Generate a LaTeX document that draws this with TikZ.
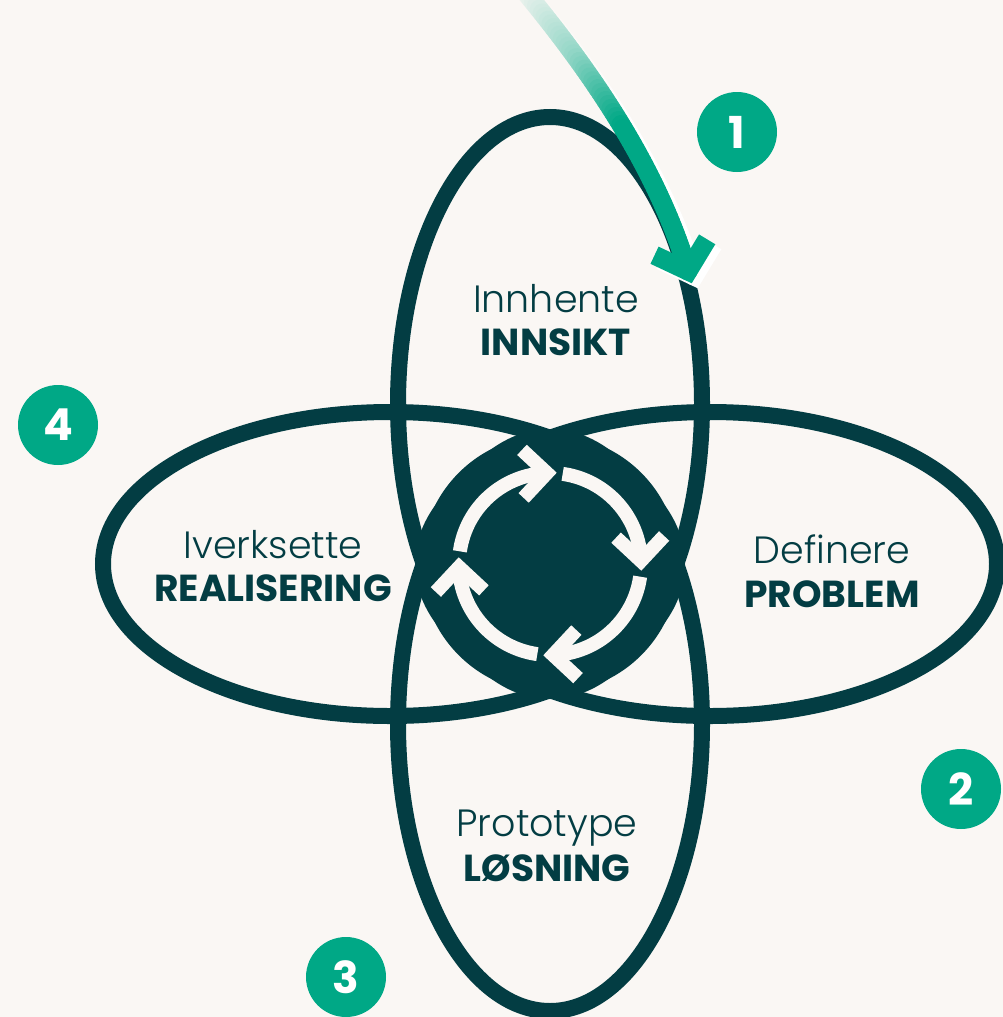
\documentclass[tikz,border=0pt]{standalone}
\usepackage{fontspec}
\newfontfamily\plight{Poppins Light}
\newfontfamily\pbold{Poppins Bold}
\usetikzlibrary{calc}
\definecolor{bg}{HTML}{FAF7F4}
\definecolor{dk}{HTML}{033D43}
\definecolor{gr}{HTML}{00A886}
\begin{document}
\begin{tikzpicture}[x=1pt,y=1pt,
  ring/.style={draw=dk, line width=16pt},
  cyc/.style={draw=bg, line width=14pt, line cap=butt},
  chev/.style={draw=bg, line width=14pt, line join=miter, line cap=butt, miter limit=10},
  garrow/.style={line width=19pt, line cap=butt, line join=miter, miter limit=10},
  gseg/.style={line width=19pt, line cap=round},
  badge/.style={circle, fill=gr, minimum size=80pt, inner sep=0pt, text=white, font=\pbold\fontsize{44}{44}\selectfont},
  lt/.style={anchor=base, text=dk, inner sep=0pt, font=\plight\fontsize{38}{40}\selectfont},
  bd/.style={anchor=base, text=dk, inner sep=0pt, font=\pbold\fontsize{37.6}{40}\selectfont}]

\fill[bg] (0,0) rectangle (1003,-1017);
\useasboundingbox (0,0) rectangle (1003,-1017);

\coordinate (C) at (550,-564);
% four ellipses
\draw[ring] (550,-404) ellipse [x radius=152pt, y radius=287pt];
\draw[ring] (550,-724) ellipse [x radius=152pt, y radius=287pt];
\draw[ring] (390,-564) ellipse [x radius=287pt, y radius=152pt];
\draw[ring] (710,-564) ellipse [x radius=287pt, y radius=152pt];

% central disc
\fill[dk] (C) circle [radius=129pt];

% cycle arrows
\foreach \s/\e [count=\i] in {172/92, 82/2, -8/-88, -98/-178} {
  \draw[cyc] ($(C)+(\s:91pt)$) arc [start angle=\s, end angle=\e, radius=91pt];
  \coordinate (t\i) at ($(C)+(\e:91pt)$);
  \draw[chev] ($(t\i)+({\e+135}:34pt)$) -- (t\i) -- ($(t\i)+({\e+45}:34pt)$);
}

% green entry arrow (fading shaft drawn as short segments)
\coordinate (g0) at (522,12);
\coordinate (g1) at (590,-70);
\coordinate (g2) at (656,-165);
\coordinate (g3) at (688,-271);
\coordinate (s0) at ($(g0)+(6,-5)$);
\coordinate (s1) at ($(g1)+(6,-5)$);
\coordinate (s2) at ($(g2)+(6,-5)$);
\coordinate (s3) at ($(g3)+(6,-5)$);
\foreach \i in {1,...,70} {
  \pgfmathsetmacro{\ta}{(\i-1)/70}
  \pgfmathsetmacro{\tb}{\i/70}
  \pgfmathsetmacro{\yy}{(1-\tb)^3*(-12)+3*(1-\tb)^2*\tb*70+3*(1-\tb)*\tb^2*165+\tb^3*271}
  \pgfmathsetmacro{\op}{max(0,min(100,ifthenelse(\yy<59,(\yy+12)/71*40,40+(\yy-59)/71*60)))}
  \path (s0) .. controls (s1) and (s2) .. (s3) coordinate[pos=\ta] (sa) coordinate[pos=\tb] (sb);
  \draw[gseg, draw=white!\op!bg] (sa) -- (sb);
}
\draw[garrow, draw=white] ($(s3)!37pt!48:(s2)$) -- (s3) -- ($(s3)!37pt!-48:(s2)$);
\foreach \i in {1,...,70} {
  \pgfmathsetmacro{\ta}{(\i-1)/70}
  \pgfmathsetmacro{\tb}{\i/70}
  \pgfmathsetmacro{\yy}{(1-\tb)^3*(-12)+3*(1-\tb)^2*\tb*70+3*(1-\tb)*\tb^2*165+\tb^3*271}
  \pgfmathsetmacro{\op}{max(0,min(100,ifthenelse(\yy<59,(\yy+12)/71*40,40+(\yy-59)/71*60)))}
  \path (g0) .. controls (g1) and (g2) .. (g3) coordinate[pos=\ta] (ga) coordinate[pos=\tb] (gb);
  \draw[gseg, draw=gr!\op!bg] (ga) -- (gb);
}
\draw[garrow, draw=gr] ($(g3)!37pt!48:(g2)$) -- (g3) -- ($(g3)!37pt!-48:(g2)$);

% number badges
\node[badge] (n1) at (737,-132) {1};
\node[badge] (n2) at (961,-789) {2};
\node[badge] (n3) at (346,-977) {3};
\node[badge] (n4) at (58,-425) {4};

% labels
\node[lt] (a1) at (556,-312) {Innhente};
\node[bd] (b1) at (556,-355) {INNSIKT};
\node[lt] (a2) at (832,-563) {Definere};
\node[bd] (b2) at (832,-607) {PROBLEM};
\node[lt] (a3) at (547,-836) {Prototype};
\node[bd] (b3) at (547,-881) {LØSNING};
\node[lt] (a4) at (273,-558) {Iverksette};
\node[bd] (b4) at (273,-601) {REALISERING};
\end{tikzpicture}
\end{document}
